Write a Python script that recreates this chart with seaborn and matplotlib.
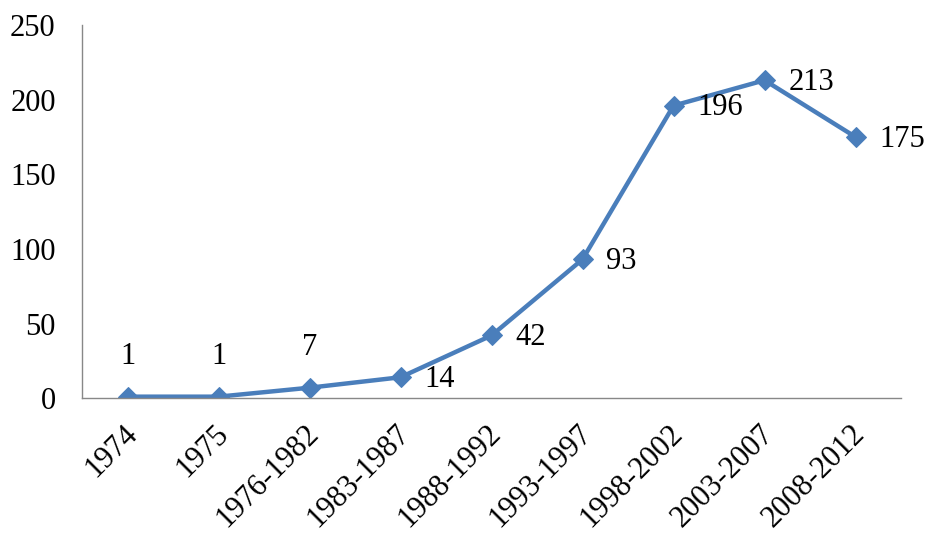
import matplotlib
matplotlib.use("Agg")
import matplotlib.pyplot as plt
import matplotlib.transforms as mtransforms
import seaborn as sns
import pandas as pd
import numpy as np

categories = ["1974", "1975", "1976-1982", "1983-1987", "1988-1992",
              "1993-1997", "1998-2002", "2003-2007", "2008-2012"]
values = [1, 1, 7, 14, 42, 93, 196, 213, 175]
yticks = [0, 50, 100, 150, 200, 250]

sns.set_style("white")
plt.rcParams['font.family'] = ['Liberation Serif', 'DejaVu Serif']
plt.rcParams['text.color'] = 'black'
plt.rcParams['xtick.color'] = 'black'
plt.rcParams['ytick.color'] = 'black'

df = pd.DataFrame({"period": categories, "count": values})
df["pos"] = np.arange(len(categories))

fig = plt.figure(figsize=(9.29, 5.33), dpi=100)
ax = fig.add_axes([0.0883, 0.253, 0.8816, 0.700])

color = "#4A7EBB"
sns.lineplot(data=df, x="pos", y="count", ax=ax, color=color, linewidth=3.2,
             marker="D", markersize=10, markeredgecolor=color, markerfacecolor=color)

FS = 22
ax.set_xlim(-0.5, len(categories) - 0.5)
ax.set_ylim(0, 250)
ax.set_yticks(yticks)
ax.set_yticklabels([str(t) for t in yticks], fontsize=FS)

ax.set_xticks(np.arange(-0.5, len(categories)), minor=False)
ax.set_xticklabels([])
ax.set_xticks(np.arange(len(categories)), minor=True)
ax.set_xticklabels(categories, minor=True, rotation=45, ha="right", va="top",
                   rotation_mode="anchor", fontsize=FS)
ax.tick_params(axis="x", which="major", length=6, width=1, color="#888888", direction="out")
ax.tick_params(axis="x", which="minor", length=0, pad=15)
ax.tick_params(axis="y", length=6, width=1, color="#888888", direction="out", pad=13)
ax.set_xlabel("")
ax.set_ylabel("")

shift = mtransforms.ScaledTranslation(-0.05, 0, fig.dpi_scale_trans)
for lbl in ax.get_xticklabels(minor=True):
    lbl.set_transform(lbl.get_transform() + shift)

for s in ["top", "right"]:
    ax.spines[s].set_visible(False)
for s in ["left", "bottom"]:
    ax.spines[s].set_color("#888888")
    ax.spines[s].set_linewidth(1)

for i, v in enumerate(values):
    if i < 3:
        ax.annotate(str(v), (i, v), xytext=(0, 29), textcoords="offset points",
                    ha="center", va="center", fontsize=FS, color="black")
    else:
        ax.annotate(str(v), (i, v), xytext=(17, -1.5), textcoords="offset points",
                    ha="left", va="center", fontsize=FS, color="black")

fig.savefig("out.png", dpi=100)
